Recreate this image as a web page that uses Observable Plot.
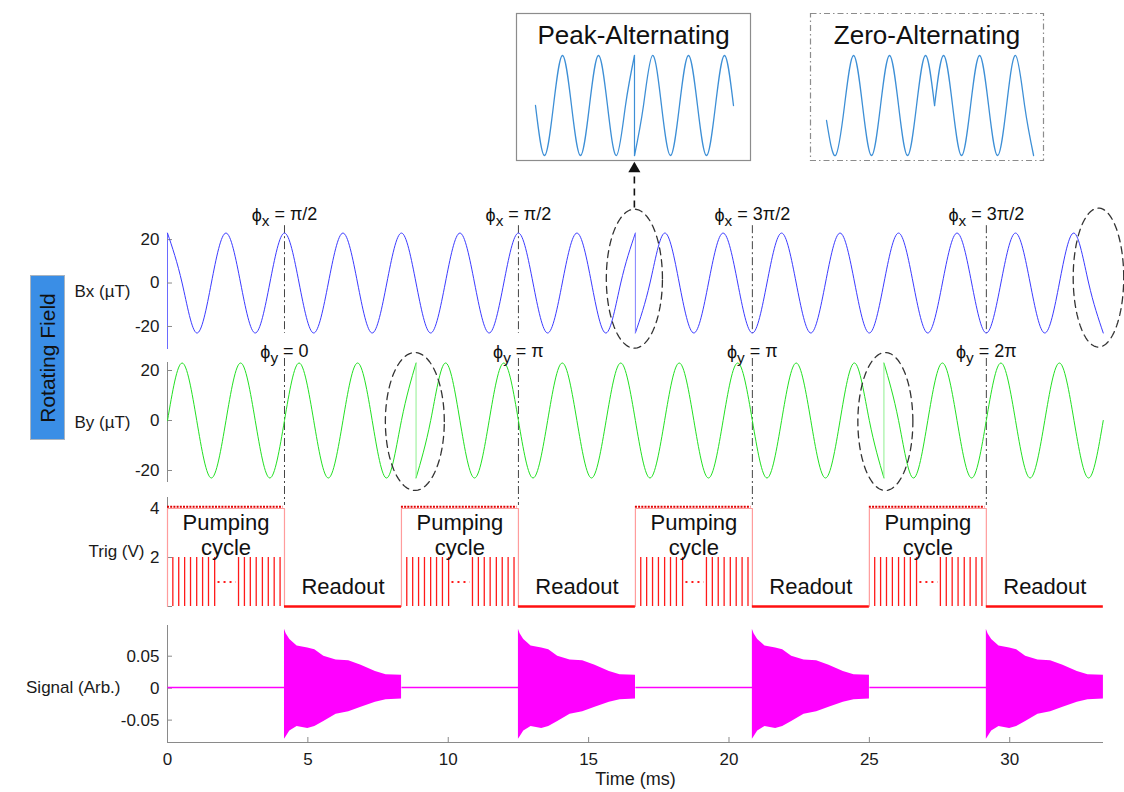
<!DOCTYPE html>
<html><head><meta charset="utf-8">
<script src="https://cdn.jsdelivr.net/npm/d3@7"></script>
<script src="https://cdn.jsdelivr.net/npm/@observablehq/plot@0.6"></script>
<style>
body{margin:0;background:#fff;}
#chart{position:relative;width:1124px;height:792px;overflow:hidden;font-family:"Liberation Sans",Arial,Helvetica,sans-serif;}
#chart svg{position:absolute;left:0;top:0;overflow:visible;}
#rf{position:absolute;left:30px;top:275px;width:35px;height:165px;background:#3a8ee6;border:1px solid #a9b4c0;box-sizing:border-box;}
#rf span{position:absolute;left:50%;top:50%;transform:translate(-50%,-50%) rotate(-90deg);white-space:nowrap;font-size:21px;color:#111;}
</style></head><body><div id="chart"><div id="rf"><span>Rotating Field</span></div></div>
<script>
// ---------------- data ----------------
const tMax = 33.34;                 // ms, x-axis limit
const quarter = 0.5208;             // ms, quarter period of the 480 Hz rotating field
const xTicks = [0, 5, 10, 15, 20, 25, 30];

// Bx samples at each quarter period (peaks, zero crossings, troughs)
const bxSegA = [23,0,-23,0,23,0,-23,0,23,0,-23,0,23,0,-23,0,23,0,-23,0,23,0,-23,0,23,0,-23,0,23,0,-23,0,23]; // i = 0..32
const bxSegB = [-23,0,23,0,-23,0,23,0,-23,0,23,0,-23,0,23,0,-23,0,23,0,-23,0,23,0,-23,0,23,0,-23,0,23,0,-23]; // i = 32..64
const bxSegStarts = [0, 32];
const bxJumps = [{i: 32, from: 23, to: -23}];
const bxTicks = [-20, 0, 20];

// By samples at each quarter period
const bySegA = [0,23,0,-23,0,23,0,-23,0,23,0,-23,0,23,0,-23,0,23];                                   // i = 0..17
const bySegB = [-23,0,23,0,-23,0,23,0,-23,0,23,0,-23,0,23,0,-23,0,23,0,-23,0,23,0,-23,0,23,0,-23,0,23,0,-23]; // i = 17..49
const bySegC = [23,0,-23,0,23,0,-23,0,23,0,-23,0,23,0,-23,0];                                          // i = 49..64
const bySegStarts = [0, 17, 49];
const byJumps = [{i: 17, from: 23, to: -23}, {i: 49, from: -23, to: 23}];
const byTicks = [-20, 0, 20];

// phase switching instants and labels
const switchTimes = [4.167, 12.5, 20.833, 29.167];
const phiXLabels = ["ϕx = π/2", "ϕx = π/2", "ϕx = 3π/2", "ϕx = 3π/2"];
const phiYLabels = ["ϕy = 0", "ϕy = π", "ϕy = π", "ϕy = 2π"];

// highlighted ellipses (centre time, centre value, radius in ms, radius in µT)
const bxEllipses = [{t: 16.63, v: 2, rt: 1.0, rv: 32}, {t: 33.16, v: 2.5, rt: 0.9, rv: 32}];
const byEllipses = [{t: 8.81, v: -0.4, rt: 1.05, rv: 27.6}, {t: 25.57, v: -0.4, rt: 0.98, rv: 27.6}];
const arrowT = 16.63, arrowFrom = 34.5, arrowTo = 51, arrowTip = 52.6;

// trigger
const pumpStarts = [0, 8.333, 16.667, 25.0];
const readoutStarts = [4.167, 12.5, 20.833, 29.167];
const halfCycle = 4.167;
const trigHigh = 4.0, trigMarker = 4.07, pulseHigh = 2.0, gapLevel = 1.0;
const pulseOffsets = [0.19,0.40,0.61,0.82,1.04,1.25,1.46,1.68, 2.53,2.74,2.95,3.16,3.38,3.59,3.80,4.01];
const gapFrom = 1.80, gapTo = 2.45;
const trigTicks = [0, 2, 4];
const pumpTextY1 = 3.43, pumpTextY2 = 2.4, readoutTextY = 0.78;

// signal envelope during each readout (offset from readout start, ms)
const envT  = [0, 0.06, 0.19, 0.45, 0.83, 1.08, 1.40, 1.84, 2.29, 2.73, 3.24, 3.62, 4.17];
const envHi = [0.092, 0.085, 0.076, 0.066, 0.063, 0.060, 0.050, 0.044, 0.043, 0.036, 0.026, 0.021, 0.020];
const envLo = [-0.080, -0.076, -0.067, -0.060, -0.063, -0.060, -0.052, -0.041, -0.037, -0.030, -0.022, -0.018, -0.017];
const baseline = 0.001;
const sigTicks = [-0.05, 0, 0.05];

// insets (samples per quarter period)
const peakAltA = [0,-1,0,1,0,-1,0,1,0,-1,0,1];        // i = 0..11
const peakAltB = [-1,0,1,0,-1,0,1,0,-1,0,1,0];        // i = 11..22
const zeroAltA = [-0.3,-1,0,1,0,-1,0,1,0,-1,0,1,0];   // i = 0..12
const zeroAltB = [0,1,0,-1,0,1,0,-1,0,1,0,-1];        // i = 12..23

// ---------------- helpers ----------------
const W = 1124, H = 792, X0 = 167, X1 = 1103;
const FONT = '"Liberation Sans", Arial, Helvetica, sans-serif';
const style = {background: "transparent", overflow: "visible", fontFamily: FONT, fontSize: "17px", color: "#1a1a1a"};
const axisGray = "#8a8a8a";
const chart = document.getElementById("chart");

function segPoints(segs, starts, scale) {
  return segs.flatMap((vals, s) => vals.map((v, k) => ({t: (starts[s] + k) * scale, v, seg: s})));
}
function ellipsePoints(list) {
  const out = [];
  list.forEach((e, k) => { for (let j = 0; j <= 90; j++) { const a = j / 90 * 2 * Math.PI;
    out.push({t: e.t + e.rt * Math.cos(a), v: e.v + e.rv * Math.sin(a), id: k}); } });
  return out;
}
const fmt = d => String(d);
function yAxis(ticks, format = fmt) {
  return Plot.axisY({ticks, tickFormat: format, tickSize: -5, tickPadding: 13, stroke: axisGray, fill: "#1a1a1a", label: null});
}
function panel(top, bottom, yDomain, marks, xOpts = {axis: null}) {
  return Plot.plot({
    width: W, height: H, marginLeft: X0, marginRight: W - X1, marginTop: top, marginBottom: H - bottom,
    x: {domain: [0, tMax], ...xOpts}, y: {domain: yDomain}, style, marks
  });
}
const dashDot = "8,3,2,3";

// ---------------- insets ----------------
function inset(segs, starts, left, right, domain, title, dash) {
  const pts = segPoints(segs, starts, 1);
  const jumps = [];
  for (let s = 1; s < segs.length; s++) {
    const prev = segs[s - 1];
    jumps.push({i: starts[s], from: prev[prev.length - 1], to: segs[s][0]});
  }
  return Plot.plot({
    width: W, height: H, marginLeft: left, marginRight: W - right, marginTop: 13, marginBottom: H - 160,
    x: {domain, axis: null}, y: {domain: [-1.1, 1.84], axis: null}, style,
    marks: [
      Plot.frame({stroke: "#8c8c8c", strokeWidth: 1.2, strokeDasharray: dash}),
      Plot.line(pts, {x: "t", y: "v", z: "seg", curve: "natural", stroke: "#3d8fd6", strokeWidth: 1.3}),
      Plot.link(jumps.filter(d => d.from !== d.to), {x1: "i", x2: "i", y1: "from", y2: "to", stroke: "#3d8fd6", strokeWidth: 1.2}),
      Plot.text([title], {frameAnchor: "top", dy: 22, lineAnchor: "middle", fontSize: 26, fill: "#111"})
    ]
  });
}
chart.append(inset([peakAltA, peakAltB], [0, 11], 516, 750, [-2.11, 23.89], "Peak-Alternating", null));
chart.append(inset([zeroAltA, zeroAltB], [0, 12], 810, 1043, [-1.78, 24.1], "Zero-Alternating", "6,3,1.5,3"));

// ---------------- Bx panel ----------------
chart.append(panel(233, 349, [-30.6, 22.8], [
  Plot.ruleX([0], {stroke: "#6a6aff"}),
  yAxis(bxTicks),
  Plot.text(["Bx (µT)"], {frameAnchor: "left", dx: -37, textAnchor: "end"}),
  Plot.ruleX(switchTimes, {x: d => d, y1: 26.4, y2: -23.2, stroke: "#444", strokeDasharray: dashDot}),
  Plot.line(segPoints([bxSegA, bxSegB], bxSegStarts, quarter), {x: "t", y: "v", z: "seg", curve: "natural", stroke: "#3b3bff", strokeWidth: 1}),
  Plot.link(bxJumps, {x1: d => d.i * quarter, x2: d => d.i * quarter, y1: "from", y2: "to", stroke: "#8080ff", strokeWidth: 1}),
  Plot.text(switchTimes, {x: d => d, text: (d, i) => phiXLabels[i], frameAnchor: "top", dy: -25, fontSize: 18, fill: "#111"}),
  Plot.line(ellipsePoints(bxEllipses), {x: "t", y: "v", z: "id", stroke: "#333", strokeWidth: 1.3, strokeDasharray: "7,5"}),
  Plot.ruleX([arrowT], {x: d => d, y1: arrowFrom, y2: arrowTo, stroke: "#111", strokeWidth: 1.6, strokeDasharray: "7,5"}),
  Plot.dot([arrowT], {x: d => d, y: arrowTip, symbol: "triangle", r: 4.5, fill: "#111", stroke: "none"})
]));

// ---------------- By panel ----------------
chart.append(panel(362, 482, [-24.8, 23.2], [
  Plot.ruleX([0], {stroke: axisGray}),
  yAxis(byTicks),
  Plot.text(["By (µT)"], {frameAnchor: "left", dx: -37, textAnchor: "end"}),
  Plot.ruleX(switchTimes, {x: d => d, y1: 24.8, y2: -34, stroke: "#444", strokeDasharray: dashDot}),
  Plot.line(segPoints([bySegA, bySegB, bySegC], bySegStarts, quarter), {x: "t", y: "v", z: "seg", curve: "natural", stroke: "#22e022", strokeWidth: 1}),
  Plot.link(byJumps, {x1: d => d.i * quarter, x2: d => d.i * quarter, y1: "from", y2: "to", stroke: "#90f090", strokeWidth: 1}),
  Plot.text(switchTimes, {x: d => d, text: (d, i) => phiYLabels[i], frameAnchor: "top", dy: -17, fontSize: 18, fill: "#111"}),
  Plot.line(ellipsePoints(byEllipses), {x: "t", y: "v", z: "id", stroke: "#333", strokeWidth: 1.3, strokeDasharray: "7,5"})
]));

// ---------------- Trig panel ----------------
const boxPts = pumpStarts.flatMap((s, k) => [
  {t: s, v: 0, k}, {t: s, v: trigHigh, k}, {t: s + halfCycle, v: trigHigh, k}, {t: s + halfCycle, v: 0, k}
]);
const pulses = pumpStarts.flatMap(s => pulseOffsets.map(o => s + o));
chart.append(panel(497, 606, [0, 4.45], [
  Plot.ruleX([0], {stroke: axisGray}),
  yAxis(trigTicks, d => d === 0 ? "" : String(d)),
  Plot.text(["Trig (V)"], {frameAnchor: "left", dx: -23, textAnchor: "end"}),
  Plot.line(boxPts, {x: "t", y: "v", z: "k", stroke: "#ff9c9c", strokeWidth: 1.2}),
  Plot.ruleY(pumpStarts, {y: trigMarker, x1: d => d, x2: d => d + halfCycle - 0.05, stroke: "#e00000", strokeWidth: 2, strokeDasharray: "2,1.2"}),
  Plot.ruleX(pulses, {x: d => d, y1: 0, y2: pulseHigh, stroke: "#ff1a1a", strokeWidth: 1.3}),
  Plot.ruleY(pumpStarts, {y: gapLevel, x1: d => d + gapFrom, x2: d => d + gapTo, stroke: "#ff1a1a", strokeWidth: 2, strokeDasharray: "2,4"}),
  Plot.ruleY(readoutStarts, {y: 0, x1: d => d, x2: d => Math.min(d + halfCycle, tMax), stroke: "#ff1010", strokeWidth: 2.6}),
  Plot.text(pumpStarts, {x: d => d + halfCycle / 2, y: pumpTextY1, text: () => "Pumping", fontSize: 22, fill: "#111"}),
  Plot.text(pumpStarts, {x: d => d + halfCycle / 2, y: pumpTextY2, text: () => "cycle", fontSize: 22, fill: "#111"}),
  Plot.text(readoutStarts, {x: d => d + halfCycle / 2, y: readoutTextY, text: () => "Readout", fontSize: 22, fill: "#111"})
]));

// ---------------- Signal panel ----------------
const sigPts = readoutStarts.flatMap((s, k) => envT.map((o, j) => ({t: s + o, hi: envHi[j], lo: envLo[j], k})));
const baseSegs = pumpStarts.map(s => ({x1: s, x2: s + halfCycle}));
chart.append(panel(625, 742, [-0.085, 0.098], [
  Plot.ruleX([0], {stroke: axisGray}),
  Plot.ruleY([-0.085], {stroke: axisGray}),
  yAxis(sigTicks),
  Plot.axisX({ticks: xTicks, tickFormat: fmt, tickSize: -5, tickPadding: 15, stroke: axisGray, fill: "#1a1a1a", label: null}),
  Plot.text(["Signal (Arb.)"], {frameAnchor: "left", dx: -47, dy: 4, textAnchor: "end"}),
  Plot.text(["Time (ms)"], {frameAnchor: "bottom", dy: 42, fontSize: 18}),
  Plot.link(baseSegs, {x1: "x1", x2: "x2", y1: baseline, y2: baseline, stroke: "#ff00ff", strokeWidth: 1.4}),
  Plot.areaY(sigPts, {x: "t", y1: "lo", y2: "hi", z: "k", fill: "#ff00ff"})
], {}));

// subscripts for the phase labels
chart.querySelectorAll("text").forEach(el => {
  const m = /^ϕ([xy])( = .*)$/.exec(el.textContent);
  if (!m) return;
  el.textContent = "ϕ";
  const ns = "http://www.w3.org/2000/svg";
  const sub = document.createElementNS(ns, "tspan");
  sub.setAttribute("dy", "0.3em"); sub.setAttribute("font-size", "0.85em"); sub.textContent = m[1];
  const rest = document.createElementNS(ns, "tspan");
  rest.setAttribute("dy", "-0.3em"); rest.textContent = m[2];
  el.append(sub, rest);
});
</script></body></html>
